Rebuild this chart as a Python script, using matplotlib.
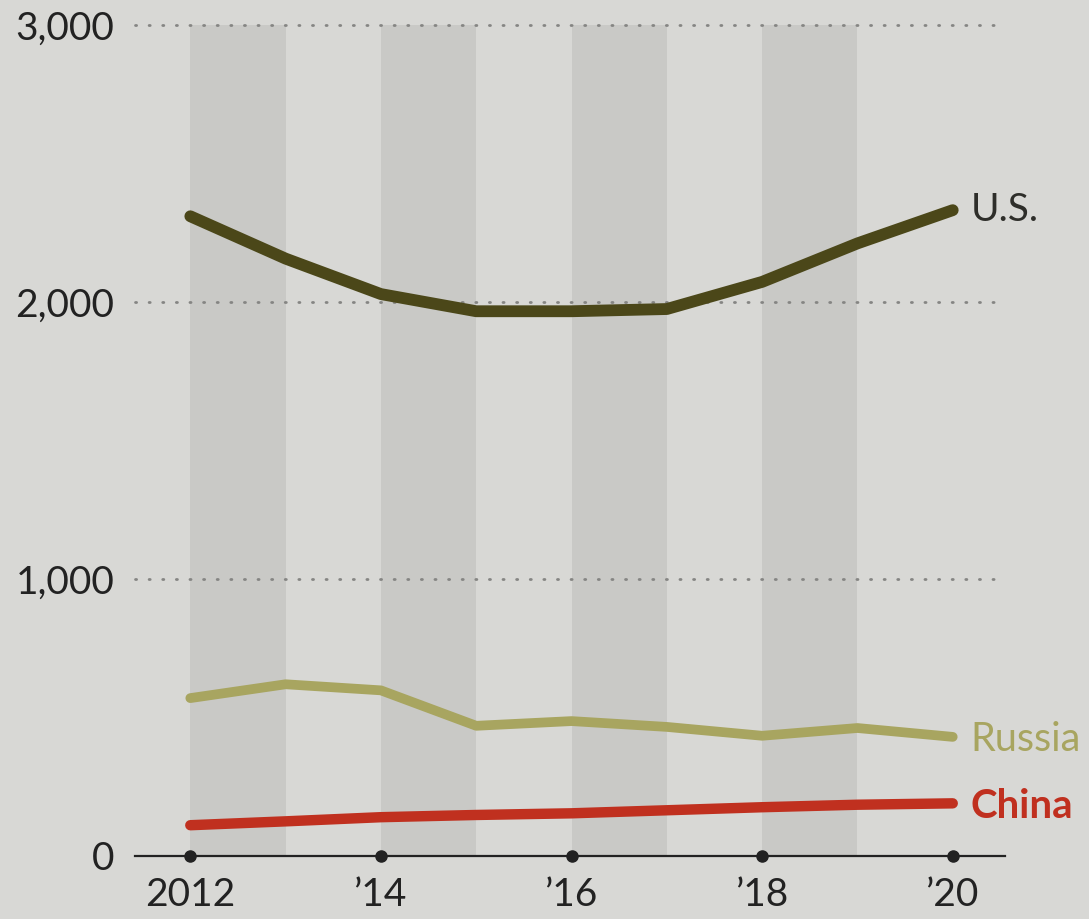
import matplotlib.pyplot as plt
import numpy as np

# values
years = [2012, 2013, 2014, 2015, 2016, 2017, 2018, 2019, 2020]
us = [2310, 2157, 2029, 1967, 1967, 1975, 2073, 2212, 2332]
russia = [570, 620, 598, 470, 487, 466, 434, 462, 430]
china = [111, 125, 140, 148, 154, 165, 176, 185, 190]

tickYears = [2012, 2014, 2016, 2018, 2020]
tickLabels = ['2012', '\u201914', '\u201916', '\u201918', '\u201920']
yTicks = [0, 1000, 2000, 3000]
bandStarts = [2012, 2014, 2016, 2018]

bg = '#d8d8d5'
bandColor = '#c9c9c6'
usColor = '#4b4719'
russiaColor = '#a8a560'
chinaColor = '#c0301f'
textColor = '#222222'

plt.rcParams['font.family'] = ['Lato', 'DejaVu Sans']

fig = plt.figure(figsize=(10.89, 9.19), dpi=100, facecolor=bg)
ax = fig.add_axes([0.124, 0.0686, 0.799, 0.904], facecolor=bg)
ax.set_xlim(2011.42, 2020.55)
ax.set_ylim(0, 3000)

for start in bandStarts:
    ax.axvspan(start, start + 1, color=bandColor, lw=0, zorder=0)

for y in yTicks[1:]:
    ax.plot([2011.42, 2020.5], [y, y], color='#858583', lw=2,
            linestyle=(0, (0.4, 4.5)), dash_capstyle='round', clip_on=False, zorder=1)

ax.plot(years, us, color=usColor, lw=8.5, solid_capstyle='round', solid_joinstyle='round', zorder=3)
ax.plot(years, russia, color=russiaColor, lw=7, solid_capstyle='round', solid_joinstyle='round', zorder=3)
ax.plot(years, china, color=chinaColor, lw=7.5, solid_capstyle='round', solid_joinstyle='round', zorder=3)

labelX = years[-1] + 0.19
ax.text(labelX, us[-1], 'U.S.', color='#2e2e2a', fontsize=28, va='center', ha='left')
ax.text(labelX, russia[-1] - 10, 'Russia', color=russiaColor, fontsize=28.5, va='center', ha='left')
ax.text(labelX, china[-1] - 10, 'China', color=chinaColor, fontsize=29, va='center', ha='left', fontweight='bold')

# axis
for side in ['top', 'right', 'left']:
    ax.spines[side].set_visible(False)
ax.spines['bottom'].set_color(textColor)
ax.spines['bottom'].set_linewidth(1.6)
ax.plot(tickYears, [0] * len(tickYears), 'o', color=textColor, markersize=8, clip_on=False, zorder=4)

ax.set_xticks(tickYears)
ax.set_xticklabels(tickLabels)
ax.set_yticks(yTicks)
ax.set_yticklabels([f'{v:,}' for v in yTicks])
ax.tick_params(axis='x', length=0, pad=15, labelsize=28, labelcolor=textColor)
ax.tick_params(axis='y', length=0, pad=15, labelsize=28, labelcolor=textColor)

fig.savefig('out.png', dpi=100, facecolor=bg)
